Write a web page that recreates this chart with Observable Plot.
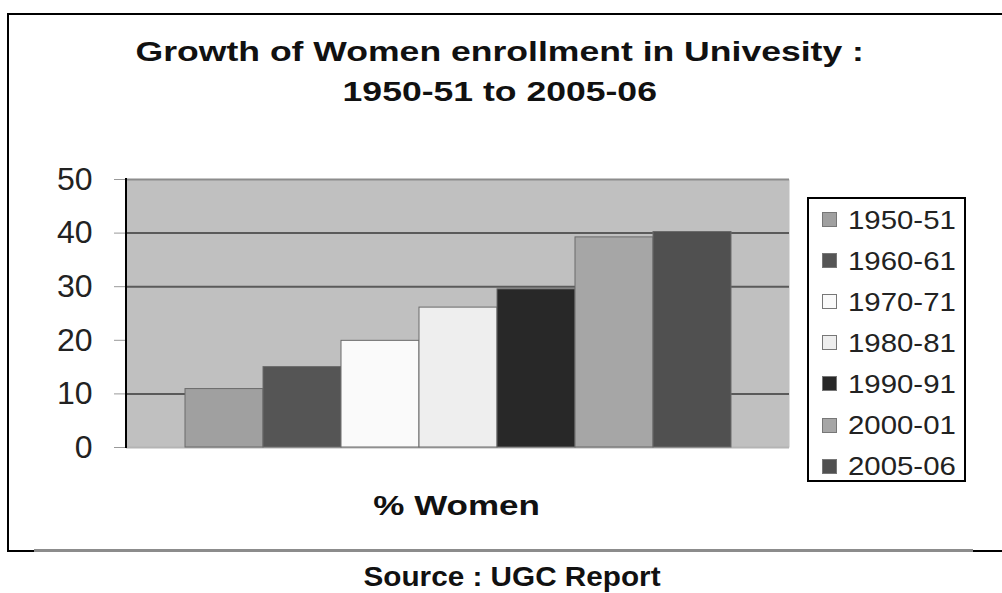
<!DOCTYPE html>
<html><head><meta charset="utf-8">
<script src="https://cdn.jsdelivr.net/npm/d3@7"></script>
<script src="https://cdn.jsdelivr.net/npm/@observablehq/plot@0.6"></script>
<style>
body{margin:0;background:#fff;font-family:"Liberation Sans",Arial,Helvetica,sans-serif;}
#wrap{position:relative;width:1002px;height:593px;overflow:hidden;background:#fff;}
#chart{position:absolute;left:0;top:0;}
.ln{position:absolute;}
.txt{position:absolute;font-weight:bold;font-size:28px;line-height:28px;color:#111;white-space:nowrap;text-align:center;}
.txt span{display:inline-block;transform-origin:center;}
#legend{position:absolute;left:807px;top:197px;width:155px;height:281px;border:2px solid #000;background:#fff;}
.item{height:41.1px;display:flex;align-items:center;}
.sw{width:15px;height:15px;box-sizing:border-box;border:1px solid #777;margin-left:13px;margin-right:11px;flex:none;}
.lab{font-size:26px;line-height:26px;color:#222;display:inline-block;transform:scaleX(1.13);transform-origin:left center;}
</style>
</head>
<body>
<div id="wrap">
  <div id="chart"></div>
  <div class="ln" style="left:7px;top:13px;width:995px;height:2px;background:#000"></div>
  <div class="ln" style="left:7px;top:13px;width:2px;height:539px;background:#000"></div>
  <div class="ln" style="left:7px;top:550px;width:28px;height:2px;background:#000"></div>
  <div class="ln" style="left:34px;top:549px;width:939px;height:3px;background:#8c8c8c"></div>
  <div class="ln" style="left:973px;top:550px;width:29px;height:2px;background:#000"></div>
  <div class="txt" id="t1" style="left:0;top:38px;width:1000px"><span style="transform:scaleX(1.27)"></span></div>
  <div class="txt" id="t2" style="left:0;top:78px;width:1000px"><span style="transform:scaleX(1.27)"></span></div>
  <div class="txt" id="xl" style="left:157px;top:492px;width:600px"><span style="transform:scaleX(1.25)"></span></div>
  <div class="txt" id="src" style="left:212px;top:564px;width:600px;font-size:27px;line-height:27px"><span style="transform:scaleX(1.1)"></span></div>
  <div id="legend"></div>
</div>
<script>
const titleLines = ["Growth of Women enrollment in Univesity :", "1950-51 to 2005-06"];
const xLabel = "% Women";
const sourceText = "Source : UGC Report";
const categories = ["1950-51","1960-61","1970-71","1980-81","1990-91","2000-01","2005-06"];
const values = [10.9, 15.0, 19.9, 26.1, 29.5, 39.2, 40.2];
const barColors = ["#a0a0a0","#555555","#fafafa","#eeeeee","#282828","#a6a6a6","#505050"];
const yTicks = [0, 10, 20, 30, 40, 50];
const gridValues = [10, 30, 40];

const data = categories.map((c, i) => ({period: c, value: values[i]}));

document.querySelector("#t1 span").textContent = titleLines[0];
document.querySelector("#t2 span").textContent = titleLines[1];
document.querySelector("#xl span").textContent = xLabel;
document.querySelector("#src span").textContent = sourceText;

function axisLine(index, scales, values, dimensions) {
  const x = dimensions.marginLeft;
  const l = document.createElementNS("http://www.w3.org/2000/svg", "line");
  l.setAttribute("x1", x); l.setAttribute("x2", x);
  l.setAttribute("y1", dimensions.marginTop - 1);
  l.setAttribute("y2", dimensions.height - dimensions.marginBottom + 1);
  l.setAttribute("stroke", "#000"); l.setAttribute("stroke-width", 2);
  return l;
}

const chart = Plot.plot({
  width: 1002, height: 593,
  marginLeft: 126, marginRight: 213, marginTop: 179, marginBottom: 146,
  style: {background: "transparent", fontFamily: "Liberation Sans, Arial, sans-serif", overflow: "visible"},
  x: {domain: categories, paddingInner: 0, paddingOuter: 0.727, axis: null},
  y: {domain: [0, 50], axis: null},
  color: {domain: categories, range: barColors},
  marks: [
    Plot.frame({fill: "#c0c0c0", stroke: null}),
    Plot.ruleY(gridValues, {stroke: "#5a5a5a", strokeWidth: 2}),
    Plot.ruleY([50], {stroke: "#8c8c8c", strokeWidth: 2}),
    Plot.ruleY([0], {stroke: "#b4b4b4", strokeWidth: 2}),
    Plot.barY(data, {x: "period", y: "value", fill: "period", stroke: "#6a6a6a", strokeWidth: 1}),
    Plot.axisY({ticks: yTicks, tickSize: 12, tickPadding: 22, fontSize: 32, stroke: "#999", fill: "#222", label: null, tickFormat: d => String(d)}),
    axisLine
  ]
});
document.getElementById("chart").appendChild(chart);

const legend = document.getElementById("legend");
categories.forEach((c, i) => {
  const row = document.createElement("div");
  row.className = "item";
  const sw = document.createElement("div");
  sw.className = "sw";
  sw.style.background = barColors[i];
  const lab = document.createElement("span");
  lab.className = "lab";
  lab.textContent = c;
  row.appendChild(sw); row.appendChild(lab);
  legend.appendChild(row);
});
</script>
</body></html>
